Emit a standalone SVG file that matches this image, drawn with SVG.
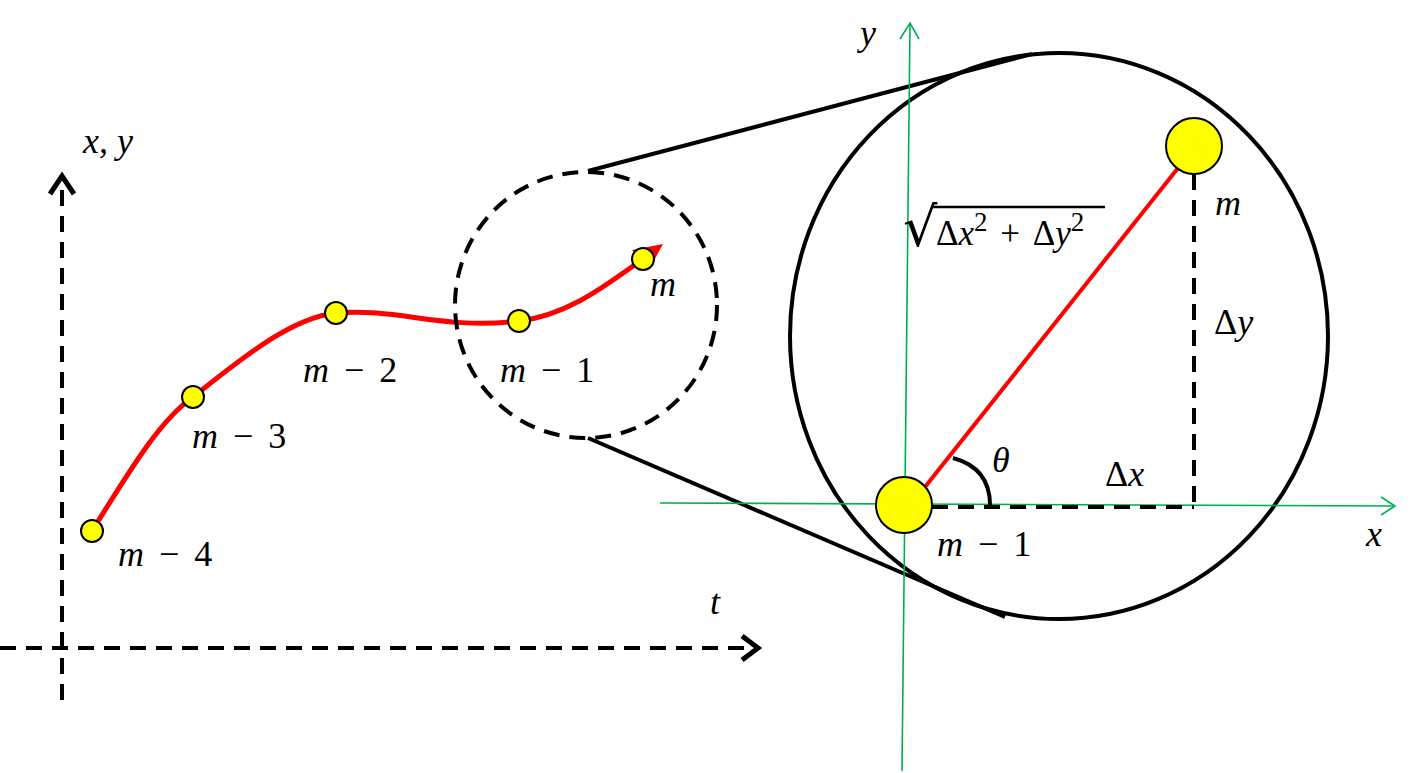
<svg xmlns="http://www.w3.org/2000/svg" width="1415" height="773" viewBox="0 0 1415 773">
<style>
.lbl{font-family:"Liberation Serif","DejaVu Serif",serif;font-style:italic;font-size:36px;fill:#000}
.ws{word-spacing:6px}
.up{font-style:normal}
.sup{font-style:normal;font-size:27px}
.dot{fill:#ffff00;stroke:#000;stroke-width:2}
.dash{fill:none;stroke:#000;stroke-width:4;stroke-dasharray:16 10}
.green{fill:none;stroke:#00b050;stroke-width:1.6}
</style>
<rect width="1415" height="773" fill="#fff"/>
<g id="connectors">
<line class="dash" x1="62" y1="700" x2="62" y2="182"/>
<polyline points="50,194 62,176 74,194" fill="none" stroke="#000" stroke-width="5"/>
<line class="dash" x1="0" y1="648" x2="752" y2="648"/>
<polyline points="742,636 758,648 742,660" fill="none" stroke="#000" stroke-width="5"/>
<path d="M92,531 C130,470 160,420 193,397 C240,360 290,318 336,313 C400,308 440,330 519,321 C570,315 610,282 643,259" fill="none" stroke="#ff0000" stroke-width="5"/>
<polygon points="632,250 663,244 649,270" fill="#ff0000"/>
<ellipse cx="586" cy="305" rx="131" ry="133" class="dash"/>
<line x1="588" y1="171" x2="1032" y2="54" stroke="#000" stroke-width="4"/>
<line x1="588" y1="438" x2="1005" y2="617" stroke="#000" stroke-width="4"/>
<ellipse cx="1059" cy="336" rx="269" ry="283" fill="none" stroke="#000" stroke-width="4"/>
<line class="green" x1="902" y1="771" x2="910" y2="23"/>
<polyline class="green" points="900,39 910,23 919,39"/>
<line class="green" x1="660" y1="503" x2="1395" y2="506"/>
<polyline class="green" points="1381,497 1395,506 1381,515"/>
<line x1="925" y1="487" x2="1178" y2="168" stroke="#ff0000" stroke-width="4"/>
<line x1="1194" y1="174" x2="1194" y2="505" class="dash" stroke-width="3"/>
<line x1="932" y1="507" x2="1194" y2="507" class="dash" stroke-width="3"/>
<path d="M953,458 Q990,468 990,505" fill="none" stroke="#000" stroke-width="4"/>
</g>
<g id="n_m4"><circle class="dot" cx="92" cy="531" r="11"/><text class="lbl ws" x="118" y="566">m <tspan class="up">− 4</tspan></text></g>
<g id="n_m3"><circle class="dot" cx="193" cy="397" r="11"/><text class="lbl ws" x="192" y="448">m <tspan class="up">− 3</tspan></text></g>
<g id="n_m2"><circle class="dot" cx="336" cy="313" r="11"/><text class="lbl ws" x="303" y="382">m <tspan class="up">− 2</tspan></text></g>
<g id="n_m1"><circle class="dot" cx="519" cy="321" r="11"/><text class="lbl ws" x="500" y="382">m <tspan class="up">− 1</tspan></text></g>
<g id="n_m"><circle class="dot" cx="643" cy="259" r="11"/><text class="lbl" x="650" y="296">m</text></g>
<g id="n_bigm1"><circle class="dot" cx="904" cy="505" r="28"/><text class="lbl ws" x="937" y="556">m <tspan class="up">− 1</tspan></text></g>
<g id="n_bigm"><circle class="dot" cx="1194" cy="146" r="28"/><text class="lbl" x="1215" y="215">m</text></g>
<g id="labels">
<text class="lbl" x="83" y="153">x, y</text>
<text class="lbl" x="710" y="614">t</text>
<text class="lbl" x="1366" y="546">x</text>
<text class="lbl" x="860" y="45">y</text>
<text class="lbl" x="992" y="472">θ</text>
<text class="lbl" x="1105" y="486"><tspan class="up">Δ</tspan>x</text>
<text class="lbl" x="1214" y="334"><tspan class="up">Δ</tspan>y</text>
<text class="lbl up" x="903" y="246" style="font-size:54px;font-family:'DejaVu Serif',serif">√</text>
<line x1="932" y1="207" x2="1105" y2="207" stroke="#000" stroke-width="2.5"/>
<text class="lbl" x="936" y="245" style="font-size:35px;word-spacing:4px"><tspan class="up">Δ</tspan>x<tspan class="sup" dy="-14">2</tspan><tspan class="up" dy="14"> + Δ</tspan>y<tspan class="sup" dy="-14">2</tspan></text>
</g>
</svg>
